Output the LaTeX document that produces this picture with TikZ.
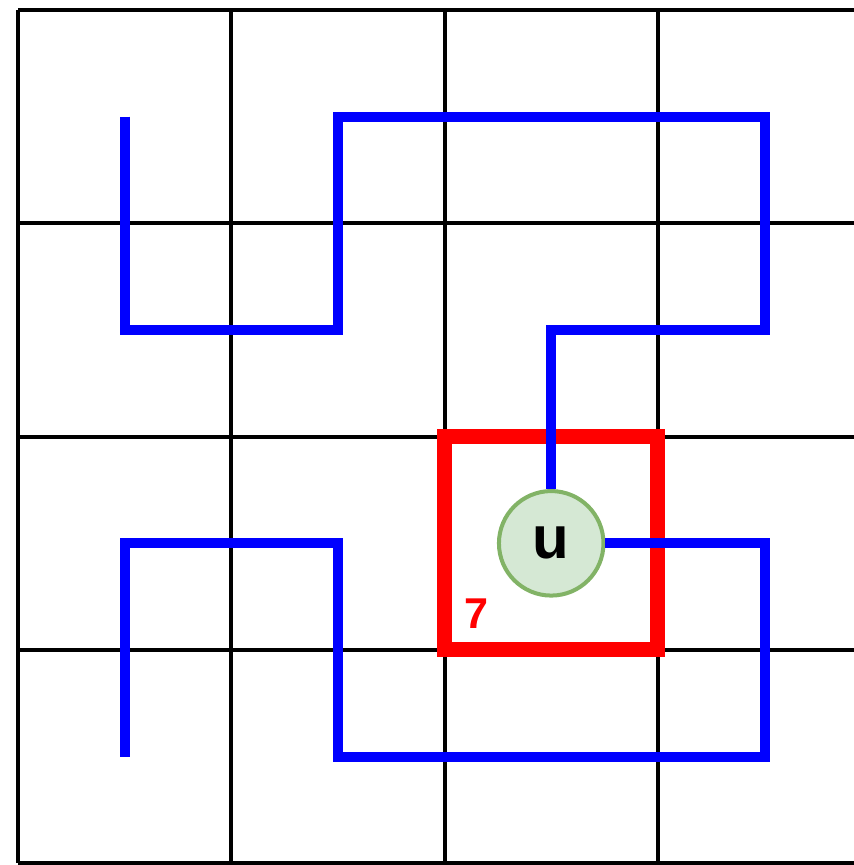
\documentclass[tikz,border=0pt]{standalone}
\usepackage{fontspec}
\setmainfont{Liberation Sans}
\usepackage{xcolor}
\usepackage{tikz}
\usetikzlibrary{positioning}
\definecolor{bleuchemin}{RGB}{0, 0, 255}
\definecolor{rougecase}{RGB}{255, 0, 0}
\definecolor{vertfond}{RGB}{213, 232, 212}
\definecolor{vertbord}{RGB}{130, 179, 102}

\begin{document}
\begin{tikzpicture}[x=2cm, y=-2cm,
    grille/.style={line width=1.07pt, black},
    chemin/.style={line width=2.67pt, bleuchemin},
    sommet/.style={circle, fill=vertfond, draw=vertbord, line width=1.07pt,
      minimum size=0.98cm, inner sep=0pt, font=\fontsize{16}{18}\selectfont\bfseries},
    numero/.style={text=rougecase, font=\fontsize{11.5}{13}\selectfont\bfseries}]
    \useasboundingbox (-0.084,-0.047) rectangle (3.919,4.008);
    \clip (-0.084,-0.047) rectangle (3.919,4.008);
    % grille 4x4
    \foreach \i in {0,...,4} {
      \draw[grille] (\i,0) -- (\i,4);
      \draw[grille] (0,\i) -- (4,\i);
    }
    % case du sommet
    \draw[rougecase, line width=4pt] (2,2) rectangle (3,3);
    \node[sommet] (u) at (2.5,2.5) {u};
    \node[numero] (n7) at (2.15,2.83) {7};
    % coins du chemin
    \coordinate (a1) at (0.5,0.5);
    \coordinate (a2) at (0.5,1.5);
    \coordinate (a3) at (1.5,1.5);
    \coordinate (a4) at (1.5,0.5);
    \coordinate (a5) at (3.5,0.5);
    \coordinate (a6) at (3.5,1.5);
    \coordinate (a7) at (2.5,1.5);
    \coordinate (b1) at (3.5,2.5);
    \coordinate (b2) at (3.5,3.5);
    \coordinate (b3) at (1.5,3.5);
    \coordinate (b4) at (1.5,2.5);
    \coordinate (b5) at (0.5,2.5);
    \coordinate (b6) at (0.5,3.5);
    % chemin bleu
    \draw[chemin] (a1) -- (a2) -- (a3) -- (a4) -- (a5) -- (a6) -- (a7) -- (u.north);
    \draw[chemin] (u.east) -- (b1) -- (b2) -- (b3) -- (b4) -- (b5) -- (b6);
  \end{tikzpicture}
\end{document}
